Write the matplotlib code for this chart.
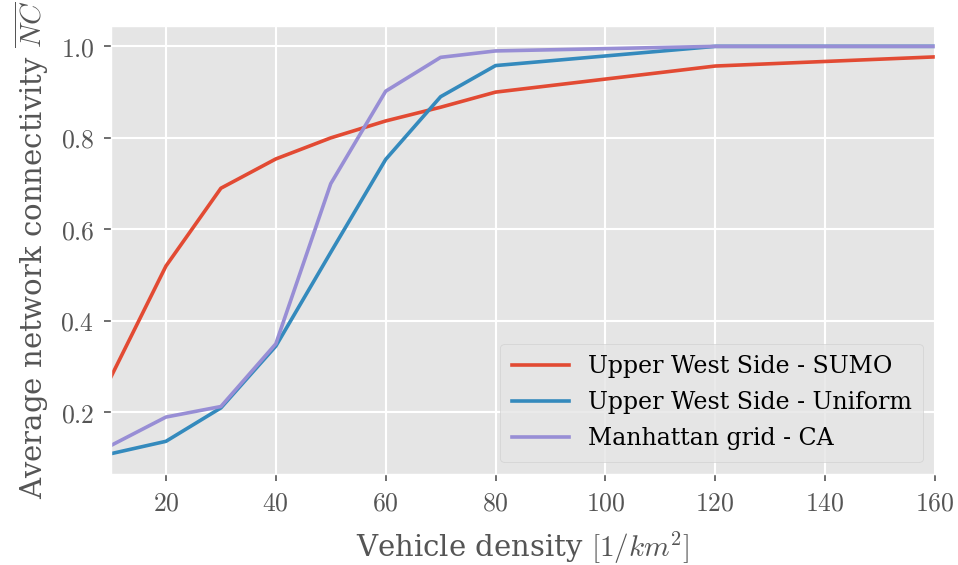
import matplotlib
matplotlib.use("Agg")
import matplotlib.pyplot as plt
from matplotlib.ticker import FuncFormatter

plt.style.use("ggplot")
plt.rcParams["font.family"] = ["DejaVu Serif"]
plt.rcParams["mathtext.fontset"] = "cm"

# Vehicle density [1/km^2]
density_sumo = [10, 20, 30, 40, 50, 60, 70, 80, 120, 160]
density_uniform = [10, 20, 30, 40, 50, 60, 70, 80, 120, 160]
density_ca = [10, 20, 30, 40, 50, 60, 70, 80, 120, 160]

# Average network connectivity
nc_sumo = [0.278, 0.520, 0.690, 0.754, 0.800, 0.837, 0.867, 0.900, 0.957, 0.977]
nc_uniform = [0.110, 0.137, 0.210, 0.345, 0.550, 0.753, 0.890, 0.958, 1.000, 1.000]
nc_ca = [0.128, 0.190, 0.213, 0.350, 0.700, 0.902, 0.976, 0.990, 1.000, 1.000]

labels = ["Upper West Side - SUMO", "Upper West Side - Uniform", "Manhattan grid - CA"]
xticks = [20, 40, 60, 80, 100, 120, 140, 160]
yticks = [0.2, 0.4, 0.6, 0.8, 1.0]

fig, ax = plt.subplots(figsize=(9.58, 5.65), dpi=100)
fig.patch.set_facecolor("white")

ax.plot(density_sumo, nc_sumo, lw=2.6, label=labels[0])
ax.plot(density_uniform, nc_uniform, lw=2.6, label=labels[1])
ax.plot(density_ca, nc_ca, lw=2.6, label=labels[2])

ax.set_xlim(10, 160)
ax.set_xticks(xticks)
ax.set_yticks(yticks)
ax.xaxis.set_major_formatter(FuncFormatter(lambda v, p: f"${v:.0f}$"))
ax.yaxis.set_major_formatter(FuncFormatter(lambda v, p: f"${v:.1f}$"))
ax.tick_params(axis="both", labelsize=18.5, colors="#555555", length=5, width=1.2, pad=7)
for lab in ax.get_xticklabels() + ax.get_yticklabels():
    lab.set_color("#555555")

ax.set_xlabel(r"Vehicle density $[1/km^2]$", fontsize=21, color="#555555", labelpad=10)
ax.set_ylabel(r"Average network connectivity $\overline{NC}$", fontsize=21, color="#555555",
              labelpad=7)
ax.grid(True, color="white", lw=1.5)

leg = ax.legend(loc="lower right", fontsize=17, framealpha=0.8, labelspacing=0.55,
                handlelength=2.4, borderpad=0.5)
for t in leg.get_texts():
    t.set_color("black")

fig.subplots_adjust(left=0.1159, right=0.976, top=0.954, bottom=0.161)
fig.savefig("out.png", dpi=100)
